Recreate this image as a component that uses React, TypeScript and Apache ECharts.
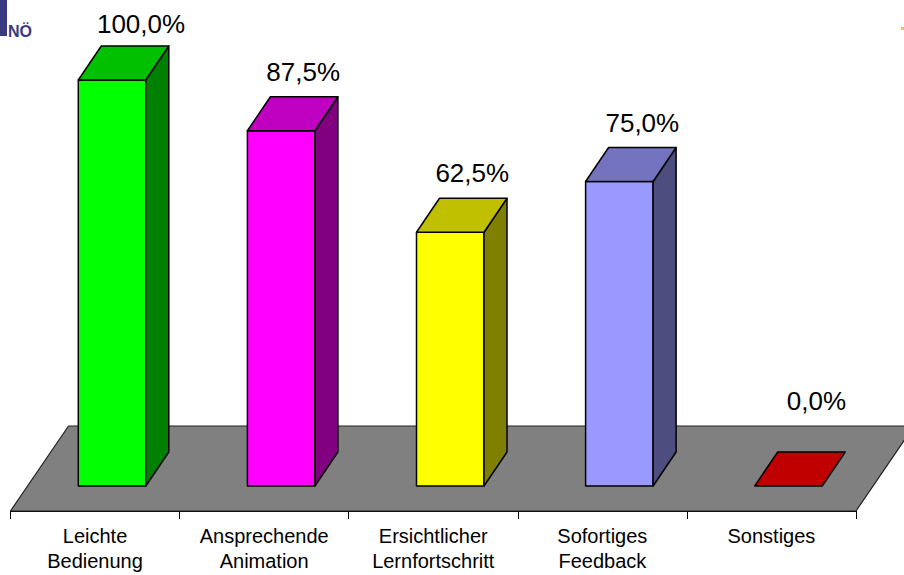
import React, { useEffect, useRef } from "react";
import * as echarts from "echarts";

const categories = [
  "Leichte\nBedienung",
  "Ansprechende\nAnimation",
  "Ersichtlicher\nLernfortschritt",
  "Sofortiges\nFeedback",
  "Sonstiges",
];
const values = [100, 87.5, 62.5, 75, 0];

const FRONT = ["#00FF00", "#FF00FF", "#FFFF00", "#9999FF", "#FF0000"];
const TOP = ["#00C000", "#C000C0", "#C0C000", "#7373C0", "#C00000"];
const SIDE = ["#008000", "#800080", "#808000", "#4D4D80", "#800000"];
const LABEL_DX = [6, -1, -1, 0, 5];
const LABEL_DY = [-22, -25, -25, -25, -51];

const FONT = '"Liberation Sans", Arial, sans-serif';
const DEPTH_X = 23;
const DEPTH_Y = 34;
const LIFT_X = 17;
const LIFT_Y = 25;
const BAR_W = 67.5;
const EDGE = "#000";
const LW = 1.5;

function poly(points: number[][], fill: string, lineWidth = LW, stroke = EDGE) {
  return {
    type: "polygon",
    shape: { points },
    style: { fill, stroke, lineWidth, lineJoin: "round" },
  };
}

function renderFloor(params: any) {
  const c = params.coordSys;
  const left = c.x;
  const right = c.x + c.width;
  const front = c.y + c.height + LIFT_Y;
  const back = front - 85;
  const dx = 58;
  return {
    type: "group",
    children: [
      poly(
        [
          [left, front],
          [right, front],
          [right + dx, back],
          [left + dx, back],
        ],
        "#808080",
        1.2,
        "#222",
      ),
    ],
  };
}

function renderBar(params: any, api: any) {
  const i = params.dataIndex;
  const v = api.value(1);
  const base = api.coord([api.value(0), 0]);
  const top = api.coord([api.value(0), v]);
  const l = base[0] + LIFT_X - BAR_W / 2;
  const r = l + BAR_W;
  const b = base[1];
  const t = top[1];
  const children: any[] = [];
  if (v > 0) {
    children.push(
      poly([[l, t], [r, t], [r, b], [l, b]], FRONT[i]),
      poly([[r, t], [r + DEPTH_X, t - DEPTH_Y], [r + DEPTH_X, b - DEPTH_Y], [r, b]], SIDE[i]),
    );
  }
  children.push(
    poly([[l, t], [l + DEPTH_X, t - DEPTH_Y], [r + DEPTH_X, t - DEPTH_Y], [r, t]], TOP[i]),
    {
      type: "text",
      style: {
        text: v.toFixed(1).replace(".", ",") + "%",
        x: (l + r) / 2 + DEPTH_X + LABEL_DX[i],
        y: t - DEPTH_Y + LABEL_DY[i],
        align: "center",
        verticalAlign: "middle",
        fontFamily: FONT,
        fontSize: 26,
        fill: "#000",
      },
    },
  );
  return { type: "group", children };
}

export default function App() {
  const ref = useRef<HTMLDivElement>(null);
  useEffect(() => {
    const chart = echarts.init(ref.current!, null, { renderer: "svg" });
    chart.setOption({
      animation: false,
      backgroundColor: "#fff",
      grid: { left: 10.5, top: 80, width: 845.5, height: 406 },
      xAxis: {
        type: "category",
        data: categories,
        offset: LIFT_Y,
        axisLine: { show: true, onZero: false, lineStyle: { color: "#000", width: 1 } },
        axisTick: { show: true, length: 8, lineStyle: { color: "#000", width: 1 } },
        axisLabel: {
          interval: 0,
          margin: 12,
          fontFamily: FONT,
          fontSize: 20,
          lineHeight: 25,
          color: "#000",
        },
      },
      yAxis: { type: "value", min: 0, max: 100, show: false },
      graphic: [
        { type: "rect", shape: { x: 0, y: 0, width: 7, height: 36 }, style: { fill: "#3A3A80" } },
        {
          type: "text",
          style: {
            text: "NÖ",
            x: 8,
            y: 31,
            verticalAlign: "middle",
            fontFamily: FONT,
            fontWeight: "bold",
            fontSize: 16,
            fill: "#3A3A80",
          },
        },
        { type: "rect", shape: { x: 901, y: 27, width: 3, height: 3 }, style: { fill: "#E8C840" } },
      ],
      series: [
        {
          type: "custom",
          coordinateSystem: "cartesian2d",
          renderItem: renderFloor,
          data: [[0, 0]],
          silent: true,
          z: 1,
        },
        {
          type: "custom",
          coordinateSystem: "cartesian2d",
          renderItem: renderBar,
          data: values.map((v, i) => [i, v]),
          encode: { x: 0, y: 1 },
          silent: true,
          z: 2,
        },
      ],
    });
    return () => chart.dispose();
  }, []);
  return (
    <div
      ref={ref}
      style={{ position: "absolute", left: 0, top: 0, width: 904, height: 575 }}
    />
  );
}
